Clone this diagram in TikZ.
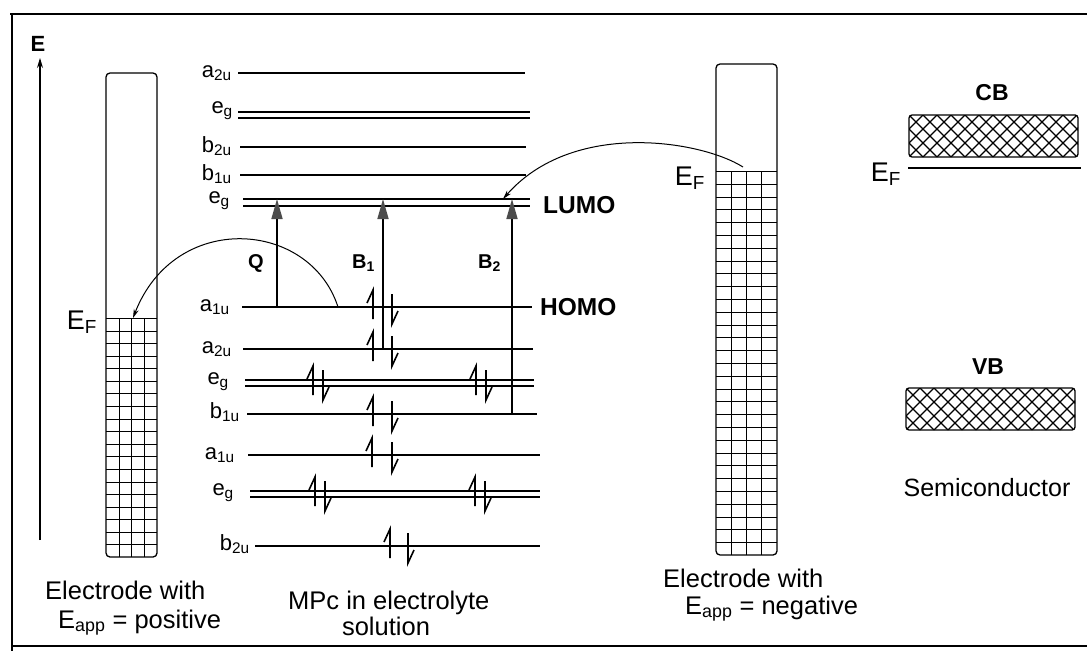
\documentclass[tikz,border=0pt]{standalone}
\usepackage{fontspec}
\setmainfont{Liberation Sans}
\usetikzlibrary{arrows.meta}
\newcommand{\fsz}[1]{\fontsize{#1}{#1}\selectfont}
\begin{document}
\begin{tikzpicture}[x=1pt,y=-1pt,
  lvl/.style={line width=1.8pt},
  lab/.style={inner sep=0pt, font=\fsz{22}, anchor=base east},
  txt/.style={inner sep=0pt, font=\fsz{25.5}, anchor=base west},
  bold/.style={inner sep=0pt, font=\fsz{23}\bfseries},
  trans/.style={line width=1.6pt, -{Triangle[length=20pt,width=11pt,fill=black!70,color=black!70]}},
  hop/.style={line width=1pt, -{Stealth[length=9pt,width=5pt]}},
  frame/.style={line width=1.5pt},
  box/.style={line width=1.3pt},
  grid/.style={line width=1.1pt},
  spinup/.pic={\draw[line width=1.6pt] (0,12) -- (0,-17) -- (-6,-4);},
  spindn/.pic={\draw[line width=1.6pt] (0,-13) -- (0,17) -- (6,4);},
]
\useasboundingbox (0,0) rectangle (1087,653);
\fill[white] (0,0) rectangle (1087,653);
% frame
\draw[frame] (10,14) -- (1087,14);
\draw[frame] (12,14) -- (12,651);
\draw[frame] (12,646) -- (1087,646);

% energy axis
\coordinate (Ebot) at (40,540);
\coordinate (Etop) at (40,58);
\draw[line width=1.2pt,-{Stealth[length=10pt,width=6pt]}] (Ebot) -- (Etop);
\node[bold, font=\fsz{22}\bfseries] (Elab) at (38,44) {E};

% left electrode
\foreach \x in {119.5,131.5,144.5} \draw[grid] (\x,318) -- (\x,557);
\foreach \k in {0,...,18} {
  \pgfmathsetmacro\yy{round(318+\k*12.58)+0.5}
  \draw[grid] (106,\yy) -- (157,\yy);}
\draw[box, rounded corners=4pt] (106,73) rectangle (157,557);
\coordinate (elL) at (133,318);
\node[inner sep=0pt, font=\fsz{27}] (EFL) at (82,322) {E\textsubscript{F}};

% right electrode
\foreach \x in {731.5,746.5,761.5} \draw[grid] (\x,171) -- (\x,555);
\foreach \k in {0,...,29} {
  \pgfmathsetmacro\yy{round(171+\k*12.8)+0.5}
  \draw[grid] (716,\yy) -- (777,\yy);}
\draw[box, rounded corners=4pt] (716,64) rectangle (777,555);
\coordinate (elR) at (743,167);
\node[inner sep=0pt, font=\fsz{27}] (EFR) at (690,178) {E\textsubscript{F}};

% MO levels
\draw[lvl] (238,73) -- (525,73);
\node[lab] (l1) at (232,77) {a\textsubscript{2u}};
\draw[lvl] (238,112) -- (530,112) (238,118) -- (530,118);
\node[lab] (l2) at (233,113) {e\textsubscript{g}};
\draw[lvl] (240,147) -- (526,147);
\node[lab] (l3) at (232,152) {b\textsubscript{2u}};
\draw[lvl] (240,175) -- (526,175);
\node[lab] (l4) at (232,180) {b\textsubscript{1u}};
\draw[lvl] (243,199) -- (530,199) (243,206) -- (530,206);
\node[lab] (l5) at (230,203) {e\textsubscript{g}};
\draw[lvl] (242,307) -- (532,307);
\node[lab] (l6) at (230,311) {a\textsubscript{1u}};
\draw[lvl] (243,349) -- (533,349);
\node[lab] (l7) at (232,353) {a\textsubscript{2u}};
\draw[lvl] (245,380) -- (534,380) (245,386) -- (534,386);
\node[lab] (l8) at (229,384) {e\textsubscript{g}};
\draw[lvl] (247,414) -- (537,414);
\node[lab] (l9) at (240,418) {b\textsubscript{1u}};
\draw[lvl] (248,455) -- (540,455);
\node[lab] (l10) at (235,459) {a\textsubscript{1u}};
\draw[lvl] (250,491) -- (540,491) (250,497) -- (540,497);
\node[lab] (l11) at (234,495) {e\textsubscript{g}};
\draw[lvl] (255,546) -- (540,546);
\node[lab] (l12) at (250,550) {b\textsubscript{2u}};

\node[txt, font=\fsz{24.5}\bfseries] (LUMO) at (543,213) {LUMO};
\node[txt, font=\fsz{24.5}\bfseries] (HOMO) at (540,315) {HOMO};

% electron pairs
\pic at (373,307) {spinup}; \pic at (392,307) {spindn};
\pic at (373,349) {spinup}; \pic at (392,349) {spindn};
\pic at (313,383) {spinup}; \pic at (323,383) {spindn};
\pic at (476,383) {spinup}; \pic at (486,383) {spindn};
\pic at (373,414) {spinup}; \pic at (392,414) {spindn};
\pic at (372,455) {spinup}; \pic at (392,455) {spindn};
\pic at (315,494) {spinup}; \pic at (325,494) {spindn};
\pic at (475,494) {spinup}; \pic at (485,494) {spindn};
\pic at (390,546) {spinup}; \pic at (408,546) {spindn};

% transitions
\coordinate (Qs) at (277,307); \coordinate (Qe) at (277,199);
\coordinate (B1s) at (383,349); \coordinate (B1e) at (383,199);
\coordinate (B2s) at (512,414); \coordinate (B2e) at (512,199);
\draw[trans] (Qs) -- (Qe);
\draw[trans] (B1s) -- (B1e);
\draw[trans] (B2s) -- (B2e);
\node[inner sep=0pt, font=\fsz{20}\bfseries, anchor=base west] (Q) at (248,268) {Q};
\node[inner sep=0pt, font=\fsz{20}\bfseries, anchor=base west] (B1) at (352,268) {B\textsubscript{1}};
\node[inner sep=0pt, font=\fsz{20}\bfseries, anchor=base west] (B2) at (478,268) {B\textsubscript{2}};

% electron hops
\coordinate (homoS) at (338,307);
\coordinate (lumoE) at (503,199);
\draw[hop] (homoS) .. controls (310,220) and (175,210) .. (elL);
\draw[hop] (elR) .. controls (700,140) and (572,120) .. (lumoE);

% semiconductor
\begin{scope}
\clip[rounded corners=3pt] (909,115) rectangle (1078,157);
\foreach \i in {853,867,...,1085} {\draw[line width=1.1pt] (\i,157) -- ++(42,-42); \draw[line width=1.1pt] (\i,115) -- ++(42,42);}
\end{scope}
\draw[box, rounded corners=3pt] (909,115) rectangle (1078,157);
\begin{scope}
\clip[rounded corners=3pt] (906,388) rectangle (1075,430);
\foreach \i in {850,864,...,1082} {\draw[line width=1.1pt] (\i,430) -- ++(42,-42); \draw[line width=1.1pt] (\i,388) -- ++(42,42);}
\end{scope}
\draw[box, rounded corners=3pt] (906,388) rectangle (1075,430);
\coordinate (sEFa) at (908,168); \coordinate (sEFb) at (1081,168);
\draw[line width=1.4pt] (sEFa) -- (sEFb);
\node[inner sep=0pt, font=\fsz{27}] (EFS) at (886,174) {E\textsubscript{F}};
\node[bold] (CB) at (992,93) {CB};
\node[bold] (VB) at (988,367) {VB};
\node[inner sep=0pt, font=\fsz{25}] (SC) at (987,488) {Semiconductor};

% bottom captions
\node[txt] (c1) at (45,599) {Electrode with};
\node[txt] (c2) at (58,628) {E\textsubscript{app} = positive};
\node[txt] (c3) at (288,609) {MPc in electrolyte};
\node[txt, anchor=base] (c4) at (386,635) {solution};
\node[txt] (c5) at (663,587) {Electrode with};
\node[txt] (c6) at (685,614) {E\textsubscript{app} = negative};
\end{tikzpicture}
\end{document}
